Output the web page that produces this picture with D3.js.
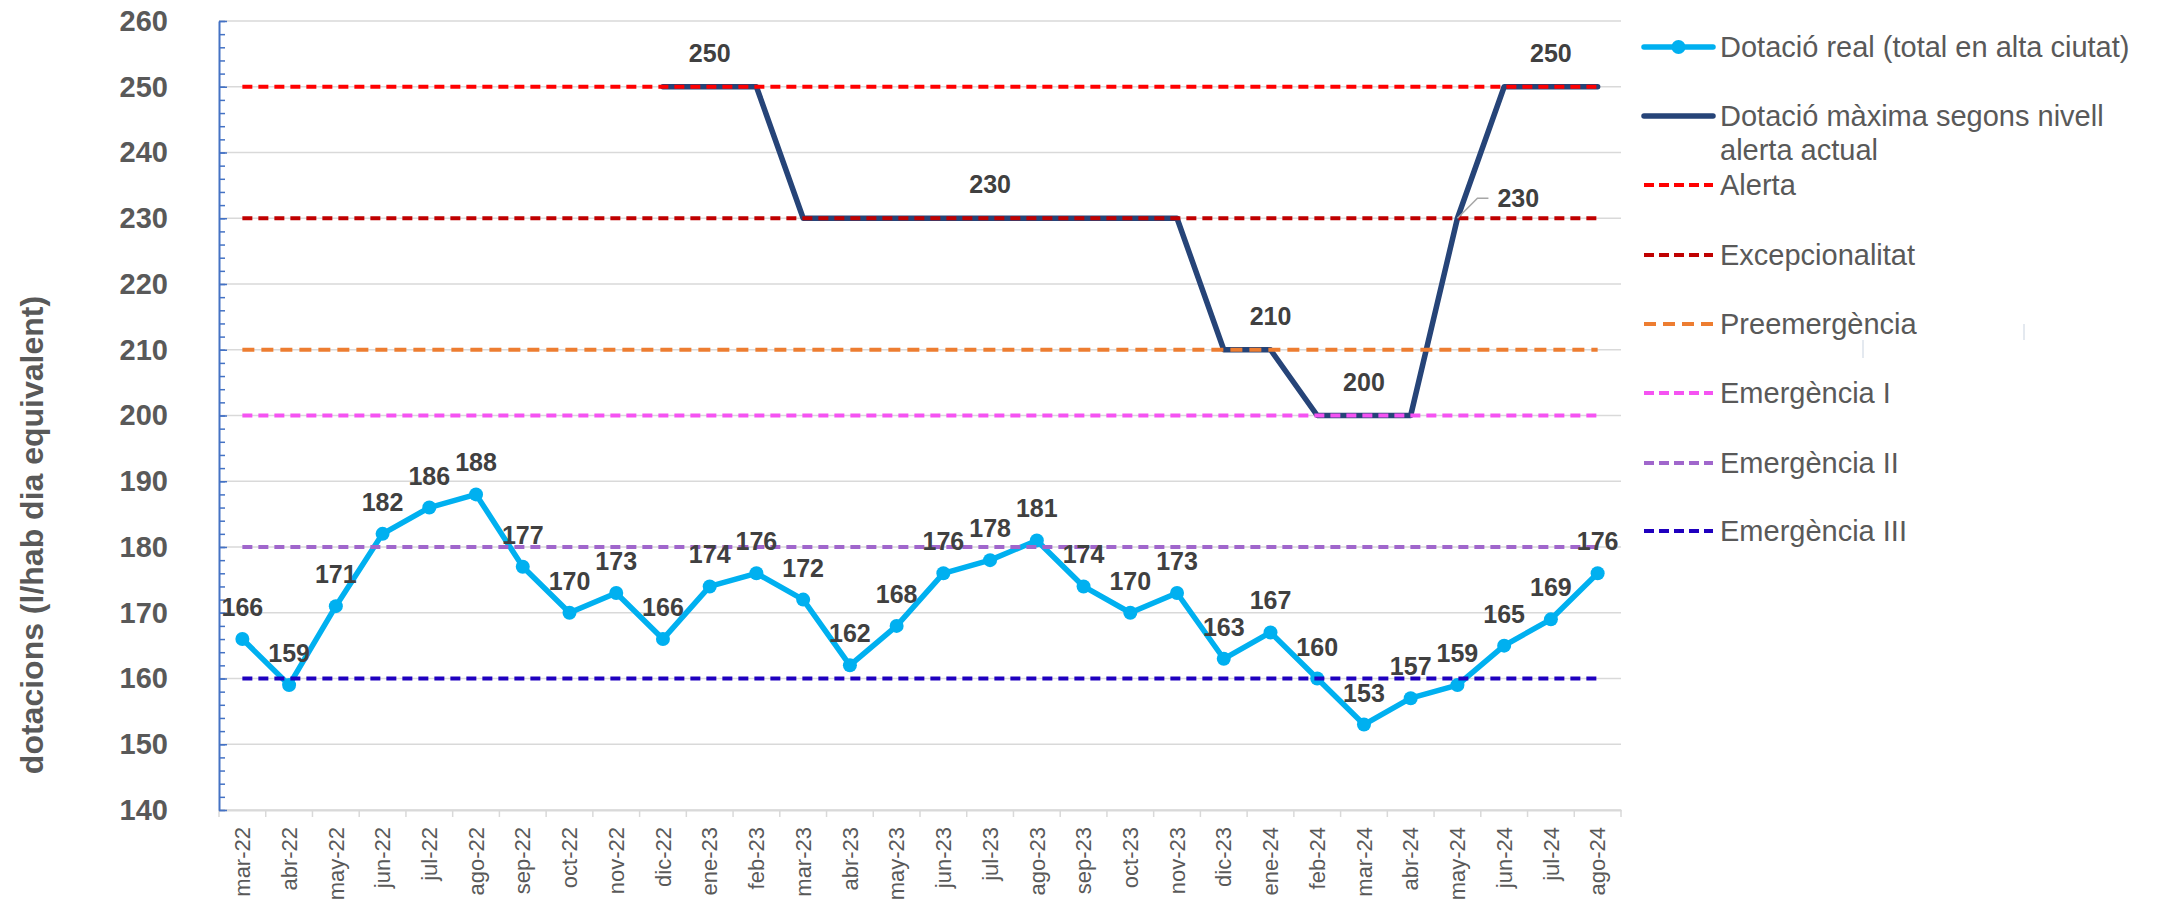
<!DOCTYPE html>
<html>
<head>
<meta charset="utf-8">
<script src="https://cdn.jsdelivr.net/npm/d3@7"></script>
<style>
  body { margin: 0; background: #fff; }
  svg text { font-family: "Liberation Sans", Arial, sans-serif; }
</style>
</head>
<body>
<div id="chart"></div>
<script>
// months on the x axis
const months = ["mar-22","abr-22","may-22","jun-22","jul-22","ago-22","sep-22","oct-22","nov-22","dic-22",
  "ene-23","feb-23","mar-23","abr-23","may-23","jun-23","jul-23","ago-23","sep-23","oct-23","nov-23","dic-23",
  "ene-24","feb-24","mar-24","abr-24","may-24","jun-24","jul-24","ago-24"];

// Dotació real (total en alta ciutat)
const real = [166,159,171,182,186,188,177,170,173,166,174,176,172,162,168,176,178,181,174,170,173,163,167,160,153,157,159,165,169,176];

// Dotació màxima segons nivell alerta actual (starts dic-22)
const maxima = [null,null,null,null,null,null,null,null,null,250,250,250,230,230,230,230,230,230,230,230,230,210,210,200,200,200,230,250,250,250];
const maximaLabelled = [10, 16, 22, 24, 26, 28];

// alert thresholds
const levelNames = ["Alerta","Excepcionalitat","Preemergència","Emergència I","Emergència II","Emergència III"];
const levelValues = [250, 230, 210, 200, 180, 160];
const levelColors = ["#FF0000","#C00000","#ED7D31","#F553F2","#A066CC","#1F00BF"];

const yTicks = [140,150,160,170,180,190,200,210,220,230,240,250,260];

const W = 2164, H = 904;
const m = {left: 219, top: 21, right: 543, bottom: 94};

let svg = d3.select("#chart").append("svg").attr("width", W).attr("height", H);

let x = d3.scaleBand().domain(months).range([m.left, W - m.right]);
let y = d3.scaleLinear().domain([140, 260]).range([H - m.bottom, m.top]);
let cx = (d) => x(d) + x.bandwidth() / 2;

// gridlines
svg.append("g")
  .selectAll("line")
  .data(yTicks)
  .enter()
  .append("line")
  .attr("x1", m.left).attr("x2", W - m.right)
  .attr("y1", (d) => y(d)).attr("y2", (d) => y(d))
  .attr("stroke", "#D9D9D9").attr("stroke-width", 1.5);

// x axis
let xAxis = d3.axisBottom(x).tickSize(0).tickPadding(0);
let gx = svg.append("g").attr("transform", `translate(0, ${H - m.bottom})`).call(xAxis);
gx.select(".domain").attr("stroke", "#D9D9D9").attr("stroke-width", 2);
gx.selectAll("text")
  .attr("transform", "rotate(-90)")
  .attr("text-anchor", "end")
  .attr("x", -17).attr("y", 0).attr("dy", "0.35em")
  .attr("font-size", 22).attr("fill", "#595959");
svg.append("g")
  .selectAll("line")
  .data(months.concat(["end"]))
  .enter()
  .append("line")
  .attr("x1", (d, i) => m.left + i * x.step()).attr("x2", (d, i) => m.left + i * x.step())
  .attr("y1", H - m.bottom).attr("y2", H - m.bottom + 7)
  .attr("stroke", "#D9D9D9").attr("stroke-width", 1.5);

// y axis: minor ticks then major ticks + labels
let gyMinor = svg.append("g").attr("transform", `translate(${m.left}, 0)`)
  .call(d3.axisLeft(y).tickValues(d3.range(140, 261, 2)).tickSize(-6).tickFormat(""));
gyMinor.select(".domain").remove();
gyMinor.selectAll("line").attr("stroke", "#4472C4").attr("stroke-width", 1.5);

let gy = svg.append("g").attr("transform", `translate(${m.left}, 0)`)
  .call(d3.axisLeft(y).tickValues(yTicks).tickSize(-8).tickSizeOuter(0).tickPadding(51));
gy.select(".domain").attr("stroke", "#4472C4").attr("stroke-width", 2);
gy.selectAll("line").attr("stroke", "#4472C4").attr("stroke-width", 1.5);
gy.selectAll("text")
  .attr("font-size", 29).attr("font-weight", "bold").attr("fill", "#595959");

// y axis title
svg.append("text")
  .attr("transform", "translate(43, 535) rotate(-90)")
  .attr("text-anchor", "middle")
  .attr("font-size", 32).attr("font-weight", "bold").attr("fill", "#595959")
  .text("dotacions (l/hab dia equivalent)");

// max line
let lineMax = d3.line()
  .defined((d) => d != null)
  .x((d, i) => cx(months[i]))
  .y((d) => y(d));
svg.append("path")
  .datum(maxima)
  .attr("d", lineMax)
  .attr("fill", "none").attr("stroke", "#264478").attr("stroke-width", 5.5)
  .attr("stroke-linejoin", "round").attr("stroke-linecap", "round");

// real line
let lineReal = d3.line().x((d, i) => cx(months[i])).y((d) => y(d));
svg.append("path")
  .datum(real)
  .attr("d", lineReal)
  .attr("fill", "none").attr("stroke", "#00B0F0").attr("stroke-width", 5.5)
  .attr("stroke-linejoin", "round");
svg.append("g")
  .selectAll("circle")
  .data(real)
  .enter()
  .append("circle")
  .attr("cx", (d, i) => cx(months[i])).attr("cy", (d) => y(d))
  .attr("r", 7).attr("fill", "#00B0F0");

// threshold lines (drawn last, on top)
levelValues.forEach((v, k) => {
  svg.append("line")
    .attr("x1", cx(months[0])).attr("x2", cx(months[months.length - 1]))
    .attr("y1", y(v)).attr("y2", y(v))
    .attr("stroke", levelColors[k]).attr("stroke-width", 4)
    .attr("stroke-dasharray", k == 2 ? "12,7" : "10,6");
});

// data labels
svg.append("g")
  .selectAll("text")
  .data(real)
  .enter()
  .append("text")
  .attr("x", (d, i) => cx(months[i])).attr("y", (d) => y(d) - 23)
  .attr("text-anchor", "middle")
  .attr("font-size", 25).attr("font-weight", "bold").attr("fill", "#404040")
  .text((d) => d);

maximaLabelled.forEach((i) => {
  let px = cx(months[i]), py = y(maxima[i]);
  if (i == 26) {
    svg.append("polyline")
      .attr("points", `${px},${py} ${px + 20},${py - 20} ${px + 31},${py - 20}`)
      .attr("fill", "none").attr("stroke", "#A6A6A6").attr("stroke-width", 1.5);
    svg.append("text")
      .attr("x", px + 40).attr("y", py - 11)
      .attr("font-size", 25).attr("font-weight", "bold").attr("fill", "#404040")
      .text(maxima[i]);
  } else {
    svg.append("text")
      .attr("x", px).attr("y", py - 25)
      .attr("text-anchor", "middle")
      .attr("font-size", 25).attr("font-weight", "bold").attr("fill", "#404040")
      .text(maxima[i]);
  }
});

// legend
const legendY = [47, 116, 185, 255, 324, 393, 463, 531];
let lg = svg.append("g");
let lx1 = 1644, lx2 = 1713, tx = 1720;
lg.append("line").attr("x1", lx1).attr("x2", lx2).attr("y1", legendY[0]).attr("y2", legendY[0])
  .attr("stroke", "#00B0F0").attr("stroke-width", 5.5).attr("stroke-linecap", "round");
lg.append("circle").attr("cx", (lx1 + lx2) / 2).attr("cy", legendY[0]).attr("r", 7).attr("fill", "#00B0F0");
lg.append("text").attr("x", tx).attr("y", legendY[0]).attr("dy", "0.35em")
  .attr("font-size", 29).attr("fill", "#595959").text("Dotació real (total en alta ciutat)");

lg.append("line").attr("x1", lx1).attr("x2", lx2).attr("y1", legendY[1]).attr("y2", legendY[1])
  .attr("stroke", "#264478").attr("stroke-width", 5.5).attr("stroke-linecap", "round");
lg.append("text").attr("x", tx).attr("y", legendY[1]).attr("dy", "0.35em")
  .attr("font-size", 29).attr("fill", "#595959").text("Dotació màxima segons nivell");
lg.append("text").attr("x", tx).attr("y", legendY[1] + 34).attr("dy", "0.35em")
  .attr("font-size", 29).attr("fill", "#595959").text("alerta actual");

levelNames.forEach((name, k) => {
  let ly = legendY[k + 2];
  lg.append("line").attr("x1", lx1).attr("x2", lx2).attr("y1", ly).attr("y2", ly)
    .attr("stroke", levelColors[k]).attr("stroke-width", 4)
    .attr("stroke-dasharray", k == 2 ? "12,7" : "10,5");
  lg.append("text").attr("x", tx).attr("y", ly).attr("dy", "0.35em")
    .attr("font-size", 29).attr("fill", "#595959").text(name);
});

// small stray marks seen in the original image
svg.append("line").attr("x1", 1863).attr("x2", 1863).attr("y1", 340).attr("y2", 358)
  .attr("stroke", "#C9D3E0").attr("stroke-width", 1);
svg.append("line").attr("x1", 2024).attr("x2", 2024).attr("y1", 324).attr("y2", 340)
  .attr("stroke", "#C9D3E0").attr("stroke-width", 1);
</script>
</body>
</html>
